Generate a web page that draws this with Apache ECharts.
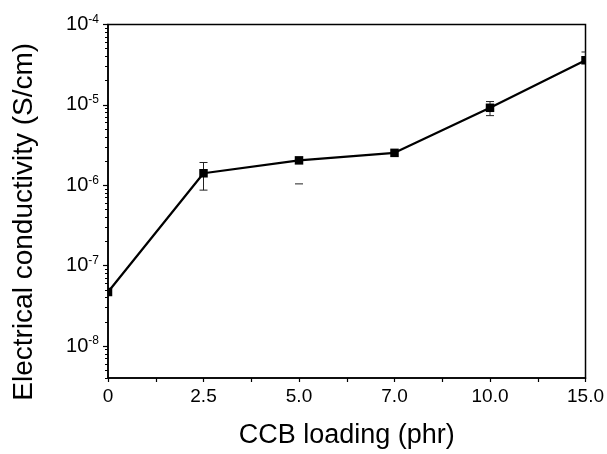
<!DOCTYPE html>
<html>
<head>
<meta charset="utf-8">
<script src="https://cdn.jsdelivr.net/npm/echarts@6/dist/echarts.min.js"></script>
<style>
html,body{margin:0;padding:0;background:#fff;}
#chart{width:607px;height:454px;}
</style>
</head>
<body>
<div id="chart"></div>
<script>
// CCB loading categories (phr)
const categories = ['0', '2.5', '5.0', '7.0', '10.0', '15.0'];
// Electrical conductivity (S/cm)
const conductivity = [4.7e-8, 1.41e-6, 2.04e-6, 2.53e-6, 9.2e-6, 3.59e-5];
// Error bar bounds (null = not visible)
const errLow  = [null, 8.7e-7, 1.04e-6, null, 7.35e-6, null];
const errHigh = [null, 1.92e-6, null, null, 1.10e-5, 4.55e-5];
// Axis ticks
const yMajorTicks = [1e-8, 1e-7, 1e-6, 1e-5, 1e-4];
const yMinorTicks = [];
[-9, -8, -7, -6, -5].forEach(function (e) {
  for (let m = 2; m <= 9; m++) { yMinorTicks.push(m * Math.pow(10, e)); }
});
const xMinorTicks = [0.5, 1.5, 2.5, 3.5, 4.5];
const yMin = 4e-9, yMax = 1e-4;

const chart = echarts.init(document.getElementById('chart'), null, {renderer: 'canvas'});
const FONT = 'Liberation Sans, Arial, sans-serif';

const errData = categories.map(function (c, i) { return [i, errLow[i], errHigh[i]]; });
const markData = categories.map(function (c, i) { return [i, conductivity[i]]; });

chart.setOption({
  animation: false,
  backgroundColor: '#fff',
  grid: {left: 108, right: 20, top: 24.5, bottom: 72, show: true, borderColor: '#000', borderWidth: 1.5, backgroundColor: 'transparent'},
  xAxis: [{
    type: 'category',
    data: categories,
    boundaryGap: false,
    position: 'bottom',
    axisLine: {lineStyle: {color: '#000', width: 1.5}},
    axisTick: {show: true, length: 4, lineStyle: {color: '#000', width: 1.2}},
    axisLabel: {color: '#000', fontSize: 19, fontFamily: FONT, margin: 9, interval: 0},
    splitLine: {show: false},
    name: 'CCB loading (phr)',
    nameLocation: 'middle',
    nameGap: 44,
    nameTextStyle: {color: '#000', fontSize: 27, fontFamily: FONT}
  }, {
    type: 'value',
    min: 0, max: 5,
    position: 'bottom',
    axisLine: {show: false},
    axisLabel: {show: false},
    splitLine: {show: false},
    axisTick: {show: true, length: 4, customValues: xMinorTicks, lineStyle: {color: '#000', width: 1.2}}
  }],
  yAxis: [{
    type: 'log',
    logBase: 10,
    min: yMin, max: yMax,
    position: 'left',
    axisLine: {show: true, lineStyle: {color: '#000', width: 1.5}},
    axisTick: {show: true, length: 5, customValues: yMajorTicks, lineStyle: {color: '#000', width: 1.2}},
    axisLabel: {
      customValues: yMajorTicks,
      margin: 9,
      formatter: function (v) { return '{b|10}{s|' + Math.round(Math.log10(v)) + '}'; },
      rich: {
        b: {fontSize: 20, fontFamily: FONT, color: '#000', lineHeight: 22},
        s: {fontSize: 12, fontFamily: FONT, color: '#000', verticalAlign: 'top', lineHeight: 14}
      }
    },
    splitLine: {show: false},
    minorTick: {show: false},
    name: 'Electrical conductivity (S/cm)',
    nameLocation: 'middle',
    nameGap: 70,
    nameTextStyle: {color: '#000', fontSize: 28, fontFamily: FONT, padding: [0, 41, 0, 0]}
  }, {
    type: 'log',
    logBase: 10,
    min: yMin, max: yMax,
    position: 'left',
    axisLine: {show: false},
    axisLabel: {show: false},
    splitLine: {show: false},
    axisTick: {show: true, length: 3, customValues: yMinorTicks, lineStyle: {color: '#000', width: 1}}
  }],
  series: [{
    type: 'line',
    xAxisIndex: 0, yAxisIndex: 0,
    data: conductivity,
    symbol: 'none',
    lineStyle: {color: '#000', width: 2.2},
    z: 2
  }, {
    type: 'custom',
    xAxisIndex: 0, yAxisIndex: 0,
    data: errData,
    z: 3,
    renderItem: function (params, api) {
      const i = api.value(0);
      const lo = errLow[i], hi = errHigh[i];
      const children = [];
      const cap = 4;
      const style = {stroke: '#222', lineWidth: 1};
      let pl = null, ph = null;
      if (lo != null) { pl = api.coord([i, lo]); children.push({type: 'line', shape: {x1: pl[0] - cap, y1: pl[1], x2: pl[0] + cap, y2: pl[1]}, style: style}); }
      if (hi != null) { ph = api.coord([i, hi]); children.push({type: 'line', shape: {x1: ph[0] - cap, y1: ph[1], x2: ph[0] + cap, y2: ph[1]}, style: style}); }
      if (pl && ph) { children.push({type: 'line', shape: {x1: pl[0], y1: pl[1], x2: ph[0], y2: ph[1]}, style: style}); }
      else if (ph) { const pc = api.coord([i, conductivity[i]]); children.push({type: 'line', shape: {x1: ph[0], y1: ph[1], x2: pc[0], y2: pc[1]}, style: style}); }
      const cs = params.coordSys;
      return {type: 'group', children: children, clipPath: {type: 'rect', shape: {x: cs.x, y: cs.y, width: cs.width, height: cs.height}}};
    }
  }, {
    type: 'custom',
    xAxisIndex: 0, yAxisIndex: 0,
    data: markData,
    z: 4,
    renderItem: function (params, api) {
      const p = api.coord([api.value(0), api.value(1)]);
      const s = 8.5;
      const cs = params.coordSys;
      const r = echarts.graphic.clipRectByRect(
        {x: p[0] - s / 2, y: p[1] - s / 2, width: s, height: s},
        {x: cs.x, y: cs.y, width: cs.width, height: cs.height}
      );
      if (!r) return null;
      return {type: 'rect', shape: r, style: {fill: '#000'}};
    }
  }]
});
</script>
</body>
</html>
